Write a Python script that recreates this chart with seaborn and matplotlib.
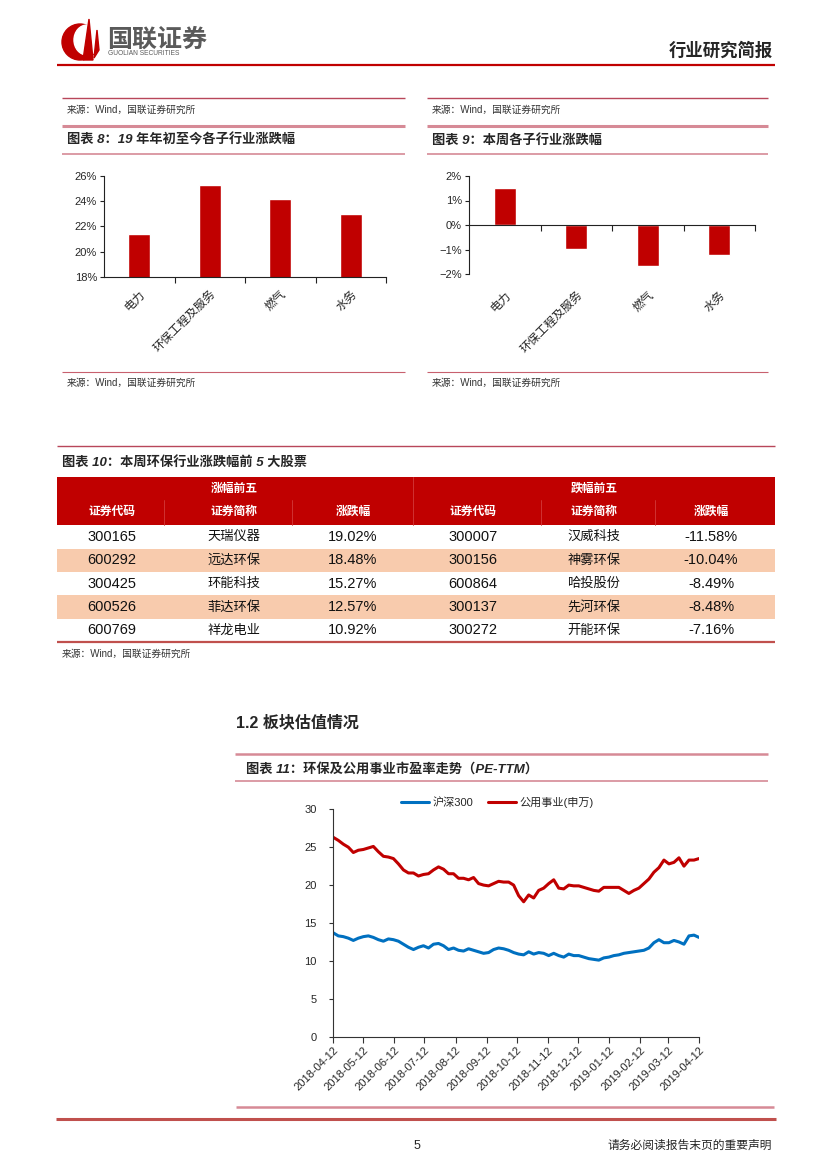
import numpy as np
import pandas as pd
import seaborn as sns
import matplotlib.pyplot as plt
from matplotlib.patches import Rectangle, Circle, Ellipse, Polygon
from matplotlib.ticker import FuncFormatter

# ---- data ----
sub_inds = ['电力', '环保工程及服务', '燃气', '水务']
ytd_chg = [21.4, 25.3, 24.2, 23.0]       # 图表8, %
week_chg = [1.5, -0.98, -1.67, -1.22]    # 图表9, %

gain_codes = ['300165', '600292', '300425', '600526', '600769']
gain_names = ['天瑞仪器', '远达环保', '环能科技', '菲达环保', '祥龙电业']
gain_pct = ['19.02%', '18.48%', '15.27%', '12.57%', '10.92%']
loss_codes = ['300007', '300156', '600864', '300137', '300272']
loss_names = ['汉威科技', '神雾环保', '哈投股份', '先河环保', '开能环保']
loss_pct = ['-11.58%', '-10.04%', '-8.49%', '-8.48%', '-7.16%']
table_head = ['证券代码', '证券简称', '涨跌幅', '证券代码', '证券简称', '涨跌幅']

pe_dates = pd.date_range('2018-04-12', periods=74, freq='5D')
hs300_pe = [13.7, 13.3, 13.2, 13.0, 12.7, 13.0, 13.2, 13.3, 13.1, 12.8,
            12.6, 12.9, 12.8, 12.6, 12.2, 11.8, 11.5, 11.8, 12.0, 11.7,
            12.2, 12.3, 12.0, 11.5, 11.7, 11.4, 11.3, 11.6, 11.4, 11.2,
            11.0, 11.1, 11.5, 11.7, 11.6, 11.4, 11.1, 10.9, 10.8, 11.2,
            10.9, 11.1, 11.0, 10.7, 11.0, 10.7, 10.5, 10.9, 10.7, 10.7,
            10.5, 10.3, 10.2, 10.1, 10.4, 10.5, 10.7, 10.8, 11.0, 11.1,
            11.2, 11.3, 11.4, 11.7, 12.4, 12.8, 12.4, 12.4, 12.7, 12.5,
            12.2, 13.3, 13.4, 13.1]
util_pe = [26.3, 25.9, 25.4, 25.0, 24.3, 24.6, 24.7, 24.9, 25.1, 24.4,
           23.8, 23.7, 23.5, 22.8, 22.0, 21.6, 21.6, 21.2, 21.4, 21.5,
           22.0, 22.4, 22.1, 21.5, 21.5, 20.9, 20.9, 20.7, 21.0, 20.2,
           20.0, 19.9, 20.2, 20.5, 20.4, 20.4, 20.0, 18.6, 17.8, 18.7,
           18.3, 19.3, 19.6, 20.2, 20.7, 19.6, 19.5, 20.0, 19.9, 19.9,
           19.7, 19.5, 19.3, 19.2, 19.7, 19.7, 19.7, 19.7, 19.3, 18.9,
           19.3, 19.6, 20.2, 20.8, 21.7, 22.3, 23.3, 22.8, 23.0, 23.6,
           22.5, 23.3, 23.3, 23.5]
pe_names = ['沪深300', '公用事业(申万)']
tick_dates = pd.date_range('2018-04-12', '2019-04-12', freq=pd.DateOffset(months=1))

RED = '#C00000'
PINK = '#D68A96'
DARKPINK = '#B8475A'
src_text = '来源：Wind，国联证券研究所'

W, H = 827, 1169
sns.set_style('white')
plt.rcParams['font.family'] = ['Liberation Sans', 'Noto Sans CJK SC']
plt.rcParams['axes.unicode_minus'] = True

fig = plt.figure(figsize=(W / 100, H / 100), dpi=100)
page = fig.add_axes([0, 0, 1, 1])
page.set_xlim(0, W)
page.set_ylim(H, 0)
page.axis('off')


def box(l, t, r, b):
    return [l / W, 1 - b / H, (r - l) / W, (b - t) / H]


def hline(y, x0, x1, color, lw):
    page.plot([x0, x1], [y, y], color=color, lw=lw, solid_capstyle='butt')


# ---- header ----
page.add_patch(Circle((80, 42), 18, color=RED))
page.add_patch(Ellipse((87, 40), 26, 30, color='white'))
page.add_patch(Polygon([(83, 60), (89, 19), (93, 60)], color=RED))
page.add_patch(Polygon([(94, 58), (97, 30), (99, 50)], color=RED))
page.text(107, 40, '国联证券', fontsize=18, fontweight='bold', color='#5a5a5a', va='center')
page.text(108, 53.5, 'GUOLIAN SECURITIES', fontsize=4.8, color='#5a5a5a', va='center')
page.text(773, 50, '行业研究简报', fontsize=12.5, fontweight='bold', ha='right', va='center')
hline(64.5, 57, 775, RED, 1.6)

# ---- small chart panels ----
titles = ['图表 8：19 年年初至今各子行业涨跌幅', '图表 9：本周各子行业涨跌幅']
for (x0, x1), ttl in zip([(62, 405), (427, 768)], titles):
    hline(98, x0, x1, DARKPINK, 1.0)
    page.text(x0 + 5, 110, src_text, fontsize=7, color='#333333', va='center')
    hline(126, x0, x1, PINK, 2.2)
    page.text(x0 + 5, 140, ttl, fontsize=9.5, fontweight='bold', style='italic', va='center')
    hline(153.5, x0, x1, PINK, 1.2)
    hline(372, x0, x1, '#C8606E', 0.8)
    page.text(x0 + 5, 383, src_text, fontsize=7, color='#333333', va='center')


def style_bar_axes(ax, pad_x):
    ax.set_facecolor('none')
    for s in ['top', 'right']:
        ax.spines[s].set_visible(False)
    for s in ['left', 'bottom']:
        ax.spines[s].set_color('#222222')
        ax.spines[s].set_linewidth(0.8)
    ax.set_xlim(-0.5, 3.5)
    ax.set_xticks(range(len(sub_inds)))
    ax.set_xticklabels(sub_inds, rotation=45, ha='right', va='top',
                       rotation_mode='anchor', fontsize=8.5)
    ax.set_xticks([0.5, 1.5, 2.5, 3.5], minor=True)
    ax.tick_params(axis='x', which='major', length=0, pad=pad_x, bottom=True)
    ax.tick_params(axis='x', which='minor', length=4, width=0.8, direction='out',
                   bottom=True, color='#222222')
    ax.tick_params(axis='y', length=3, width=0.8, direction='out', left=True,
                   labelsize=8, pad=2, color='#222222')
    ax.yaxis.set_major_formatter(FuncFormatter(lambda v, _: f'{v:.0f}%'.replace('-', '\u2212')))
    ax.set_xlabel('')
    ax.set_ylabel('')


ax8 = fig.add_axes(box(104, 176, 386, 277))
df8 = pd.DataFrame({'ind': sub_inds, 'chg': ytd_chg})
sns.barplot(data=df8, x='ind', y='chg', color=RED, saturation=1, width=0.31, ax=ax8)
ax8.set_ylim(18, 26)
ax8.set_yticks([18, 20, 22, 24, 26])
style_bar_axes(ax8, 8)

ax9 = fig.add_axes(box(469, 176, 755, 274))
df9 = pd.DataFrame({'ind': sub_inds, 'chg': week_chg})
sns.barplot(data=df9, x='ind', y='chg', color=RED, saturation=1, width=0.31, ax=ax9)
ax9.set_ylim(-2, 2)
ax9.set_yticks([-2, -1, 0, 1, 2])
ax9.spines['bottom'].set_position(('data', 0))
style_bar_axes(ax9, 46)

# ---- table ----
hline(446, 57, 775, DARKPINK, 1.0)
page.text(62, 462, '图表 10：本周环保行业涨跌幅前 5 大股票', fontsize=9.5,
          fontweight='bold', style='italic', va='center')
page.add_patch(Rectangle((57, 476.5), 718, 48, color=RED, lw=0))
col_x = [112, 234, 353, 473, 594, 711]
for x in [164, 292, 541, 655]:
    page.plot([x, x], [500, 524.5], color='#D23A3A', lw=0.6)
page.plot([413, 413], [476.5, 524.5], color='#D23A3A', lw=0.6)
page.text(col_x[1], 489, '涨幅前五', color='white', fontsize=8.5, fontweight='bold',
          ha='center', va='center')
page.text(col_x[4], 489, '跌幅前五', color='white', fontsize=8.5, fontweight='bold',
          ha='center', va='center')
for x, t in zip(col_x, table_head):
    page.text(x, 512, t, color='white', fontsize=8.5, fontweight='bold',
              ha='center', va='center')
row_top = [524.5, 548.5, 571.5, 595, 618.5]
row_h = [24, 23, 23.5, 23.5, 23]
for i in range(5):
    if i % 2 == 1:
        page.add_patch(Rectangle((57, row_top[i]), 718, row_h[i], color='#F8CBAD', lw=0))
    yc = row_top[i] + row_h[i] / 2 + 0.5
    cells = [gain_codes[i], gain_names[i], gain_pct[i],
             loss_codes[i], loss_names[i], loss_pct[i]]
    for j, (x, t) in enumerate(zip(col_x, cells)):
        fs = 9.5 if j in (1, 4) else 10.5
        page.text(x, yc, t, fontsize=fs, ha='center', va='center', color='#111111')
hline(641.5, 57, 775, '#C0504D', 1.6)
page.text(62, 654, src_text, fontsize=7, color='#333333', va='center')

# ---- section 1.2 ----
page.text(236, 722, '1.2 板块估值情况', fontsize=11.5, fontweight='bold', va='center')
hline(754, 235, 768, PINK, 1.8)
page.text(246, 769, '图表 11：环保及公用事业市盈率走势（PE-TTM）', fontsize=9.5,
          fontweight='bold', style='italic', va='center')
hline(781, 235, 768, PINK, 1.2)

ax11 = fig.add_axes(box(333.3, 809.3, 699, 1036.7))
ax11.set_facecolor('none')
df11 = pd.DataFrame({'date': pe_dates, pe_names[0]: hs300_pe, pe_names[1]: util_pe})
long11 = df11.melt(id_vars='date', var_name='series', value_name='pe')
sns.lineplot(data=long11, x='date', y='pe', hue='series', hue_order=pe_names,
             palette=['#0070C0', RED], lw=2.2, ax=ax11)
ax11.set_xlim(pe_dates[0], pe_dates[-1])
ax11.set_ylim(0, 30)
ax11.set_yticks(range(0, 31, 5))
ax11.set_xticks(tick_dates)
ax11.set_xticklabels([d.strftime('%Y-%m-%d') for d in tick_dates], rotation=45,
                     ha='right', va='top', rotation_mode='anchor', fontsize=8)
ax11.tick_params(axis='x', length=4, width=0.8, direction='out', bottom=True, pad=2,
                 color='#333333')
ax11.tick_params(axis='y', length=3, width=0.8, direction='out', left=True, pad=9,
                 labelsize=8, color='#333333')
for s in ['top', 'right']:
    ax11.spines[s].set_visible(False)
for s in ['left', 'bottom']:
    ax11.spines[s].set_color('#333333')
    ax11.spines[s].set_linewidth(0.8)
ax11.set_xlabel('')
ax11.set_ylabel('')
handles, labels = ax11.get_legend_handles_labels()
ax11.legend(handles, labels, loc='center left', bbox_to_anchor=(0.158, 1.032), ncol=2,
            frameon=False, fontsize=8, handlelength=2.5, handletextpad=0.35,
            columnspacing=1.3)

# ---- footer ----
hline(1107, 236, 774, PINK, 1.8)
hline(1119, 56, 776, '#C0504D', 2.2)
page.text(417, 1146, '5', fontsize=9, ha='center', va='center')
page.text(772, 1146, '请务必阅读报告末页的重要声明', fontsize=8.5, ha='right', va='center')

fig.savefig('out.png', dpi=100)
